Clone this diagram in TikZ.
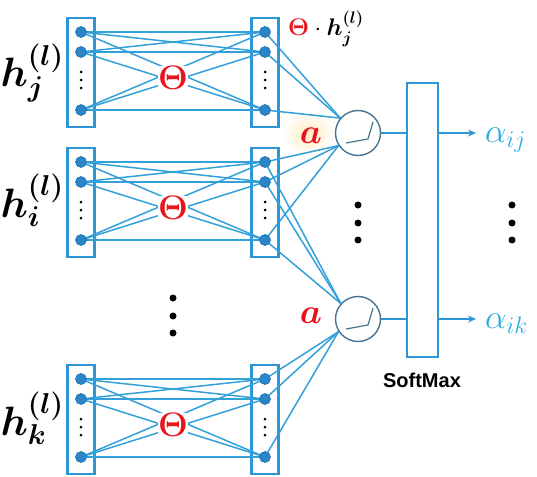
\RequirePackage{fix-cm}
\documentclass[tikz,border=0pt]{standalone}
\usepackage{amsmath}
\usepackage{bm}
\usepackage{fontspec}
\newfontfamily\smfont{Liberation Sans}
\usetikzlibrary{arrows.meta}
\definecolor{boxblue}{HTML}{2E95D6}
\definecolor{lineblue}{HTML}{34A0DA}
\definecolor{nodeblue}{HTML}{2A86C8}
\definecolor{nodeedge}{HTML}{1F6FAE}
\definecolor{actgrey}{HTML}{4A7390}
\definecolor{alphablue}{HTML}{29A9E1}
\definecolor{thred}{HTML}{E8141B}
\definecolor{glow}{HTML}{FFEDC4}
\begin{document}
\begin{tikzpicture}[x=1pt,y=-1pt,
  blk/.style={draw=boxblue, line width=2.6pt, inner sep=0pt, minimum width=27pt, minimum height=109pt},
  unit/.style={circle, fill=nodeblue, draw=nodeedge, line width=0.6pt, inner sep=0pt, minimum size=11pt},
  conn/.style={draw=lineblue, line width=1.5pt},
  sdot/.style={circle, fill=black, inner sep=0pt, minimum size=3pt},
  bdot/.style={circle, fill=black, inner sep=0pt, minimum size=7pt},
  thetalbl/.style={text=thred, fill=white, inner sep=0.3pt, font=\fontsize{34}{34}\selectfont},
  act/.style={circle, draw=actgrey, line width=1.4pt, minimum size=45pt, inner sep=0pt},
  hlbl/.style={anchor=base east, inner sep=0pt, font=\fontsize{41}{41}\selectfont},
  albl/.style={anchor=base, text=thred, font=\fontsize{35}{35}\selectfont},
  alphalbl/.style={anchor=base west, inner sep=0pt, text=alphablue, font=\fontsize{34}{34}\selectfont},
  smbox/.style={draw=boxblue, line width=2.6pt, inner sep=0pt, minimum width=31pt, minimum height=274pt},
  outarrow/.style={draw=boxblue, line width=1.8pt, -{Stealth[length=8pt,width=7pt]}},
  link/.style={draw=boxblue, line width=2.2pt}
]
\useasboundingbox (0,0) rectangle (537,476);
% glow behind upper a
\shade[inner color=glow, outer color=white] (308,133) ellipse (27 and 23);

% blocks
\foreach \b/\T in {j/18, i/148, k/365}{
  \node[blk] (\b Lbox) at (81,\T+54.5) {};
  \node[blk] (\b Rbox) at (265,\T+54.5) {};
  \coordinate (\b L1) at (81,\T+14);
  \coordinate (\b L2) at (81,\T+34);
  \coordinate (\b L3) at (81,\T+92);
  \coordinate (\b R1) at (265,\T+14);
  \coordinate (\b R2) at (265,\T+34);
  \coordinate (\b R3) at (265,\T+92);
  \foreach \p in {1,2,3}{
    \foreach \q in {1,2,3}{
      \draw[conn] (\b L\p) -- (\b R\q);
    }
  }
}

% activation units
\node[act] (c1) at (358,133) {};
\node[act] (c2) at (358,319) {};
\draw[actgrey, line width=1.2pt] ([shift={(-12,10)}]c1.center) -- ([shift={(10,6)}]c1.center) -- ([shift={(15,-11)}]c1.center);
\draw[actgrey, line width=1.2pt] ([shift={(-12,10)}]c2.center) -- ([shift={(10,6)}]c2.center) -- ([shift={(15,-11)}]c2.center);

% connections to activation units
\foreach \q in {1,2,3}{
  \draw[conn] (jR\q) -- (c1.140);
  \draw[conn] (iR\q) -- (c1.213);
  \draw[conn] (iR\q) -- (c2.138);
  \draw[conn] (kR\q) -- (c2.213);
}

% unit dots and small dots
\foreach \b/\T in {j/18, i/148, k/365}{
  \foreach \p in {1,2,3}{
    \node[unit] (\b Ln\p) at (\b L\p) {};
    \node[unit] (\b Rn\p) at (\b R\p) {};
  }
  \foreach \d/\dy in {1/54,2/62,3/70}{
    \node[sdot] (\b Ld\d) at (81,\T+\dy) {};
    \node[sdot] (\b Rd\d) at (265,\T+\dy) {};
  }
  \node[thetalbl] (\b th) at (173,\T+60) {$\bm{\Theta}$};
}

% labels h
\node[hlbl] (hj) at (64,87) {$\bm{h_j^{(l)}}$};
\node[hlbl] (hi) at (64,217) {$\bm{h_i^{(l)}}$};
\node[hlbl] (hk) at (64,435) {$\bm{h_k^{(l)}}$};

% top label
\node[anchor=base west, font=\fontsize{24}{24}\selectfont, inner sep=0pt] (toplbl) at (288,36) {$\color{thred}\bm{\Theta}\color{black}\cdot\bm{h_j^{(l)}}$};

% a labels
\node[albl] (a1) at (311,143) {$\bm{a}$};
\node[albl] (a2) at (311,323) {$\bm{a}$};

% softmax
\node[smbox] (sm) at (422.5,220) {};
\node[anchor=base, font=\smfont\bfseries\fontsize{20}{20}\selectfont, inner sep=0pt] (smlbl) at (422,387) {SoftMax};
\draw[link] (c1.east) -- (c1.east -| sm.west);
\draw[link] (c2.east) -- (c2.east -| sm.west);
\coordinate (e1) at (476,133);
\coordinate (e2) at (476,319);
\draw[outarrow] (c1.center -| sm.east) -- (e1);
\draw[outarrow] (c2.center -| sm.east) -- (e2);

% alpha labels
\node[alphalbl] (aij) at (485,142) {$\alpha_{ij}$};
\node[alphalbl] (aik) at (485,328) {$\alpha_{ik}$};

% big dots
\foreach \n/\x/\y in {l1/173/298, l2/173/316, l3/173/333, m1/358/205, m2/358/223, m3/358/240, r1/512/205, r2/512/223, r3/512/240}{
  \node[bdot] (bd\n) at (\x,\y) {};
}
\end{tikzpicture}
\end{document}
